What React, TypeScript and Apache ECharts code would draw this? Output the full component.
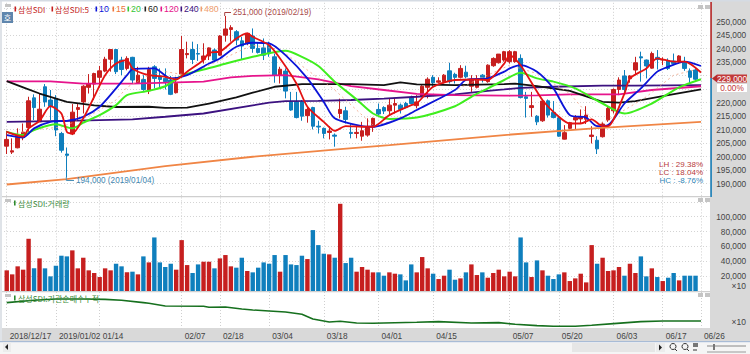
import React, { useEffect, useRef } from "react";
import * as echarts from "echarts";

const UP = "#c61f1f";
const DOWN = "#0f7fbd";
const SANS = "'Liberation Sans',sans-serif";
const CJK = "'Noto Sans CJK KR',sans-serif";

const slotCount = 129;
const tickIndexes = [0, 9, 17, 32, 39, 48, 58, 68, 78, 92, 101, 111, 120, 127];
const tickLabels = ["2018/12/17", "2019/01/02", "01/14", "02/07", "02/18", "03/04", "03/18", "04/01", "04/15", "05/07", "05/20", "06/03", "06/17", "06/26"];

// open, close, low, high, thousands of won
const candleRows: number[][] = [
  [203.9,206.4,201.0,209.6],[201.7,202.2,201.0,206.8],[203.3,207.1,203.1,210.5],[207.1,209.1,206.1,212.3],[210.8,220.7,209.2,222.2],
  [221.8,218.2,213.6,223.1],[212.9,217.6,212.9,223.4],[225.9,220.3,218.5,226.9],[221.0,218.7,213.6,224.7],[221.6,209.9,207.6,222.8],
  [208.6,202.4,201.5,209.2],[201.0,200.5,192.3,203.4],[208.4,216.5,208.0,219.5],[217.5,218.2,213.6,219.5],[220.3,226.1,216.0,226.5],
  [225.7,226.9,223.4,230.6],[226.9,230.8,221.0,231.1],[229.4,231.8,225.7,233.6],[231.7,236.1,231.3,237.0],[236.1,239.7,231.5,239.9],
  [239.7,231.5,230.6,239.9],[235.8,232.3,230.2,237.0],[232.7,236.4,232.0,237.2],[236.8,228.4,227.1,237.0],[227.4,230.2,227.1,233.3],
  [228.6,224.9,224.4,230.2],[224.4,232.3,223.2,233.3],[233.3,229.0,225.3,233.9],[229.9,228.6,225.7,232.7],[229.0,227.8,224.9,232.7],
  [228.4,223.1,222.8,229.9],[223.7,227.1,223.4,229.6],[230.6,239.7,230.2,244.7],[237.8,238.2,236.4,242.6],[239.7,236.0,234.3,242.6],
  [238.2,238.0,235.5,241.7],[236.0,237.3,234.5,242.0],[237.3,240.3,235.8,240.5],[239.5,235.8,235.4,240.1],[237.6,244.7,237.3,245.0],
  [245.0,247.3,242.6,252.1],[247.1,247.8,242.6,248.7],[246.3,243.2,241.3,246.9],[242.9,241.0,236.0,244.4],[242.0,245.7,241.3,245.9],
  [244.7,240.1,238.5,247.5],[240.1,238.6,238.2,242.2],[240.3,237.6,235.8,243.8],[241.3,238.2,237.0,242.6],[237.0,230.2,227.4,238.2],
  [230.1,232.4,227.1,233.3],[231.7,224.3,221.6,232.7],[220.3,217.3,217.0,224.0],[220.3,214.5,214.2,224.0],[220.3,215.0,213.3,221.0],
  [215.2,217.5,212.6,218.2],[218.2,211.3,210.1,218.5],[211.3,211.0,208.6,213.3],[210.5,208.6,206.8,210.8],[209.0,209.5,206.4,211.3],
  [208.0,207.6,203.7,208.6],[216.0,217.5,214.2,221.5],[217.0,213.8,212.3,218.5],[209.0,208.6,206.8,212.3],[208.6,209.0,206.8,211.3],
  [207.6,209.6,205.9,212.9],[208.0,210.8,207.4,214.2],[211.6,214.2,209.2,214.5],[217.5,215.8,215.4,219.7],[218.2,216.9,215.8,218.7],
  [217.0,219.1,215.4,221.6],[219.1,219.7,216.0,221.6],[219.1,217.5,216.0,219.7],[219.7,218.2,217.9,220.3],[222.0,219.7,219.5,222.6],
  [218.9,220.3,217.9,222.8],[222.4,226.1,222.2,226.5],[225.7,228.7,221.6,229.4],[229.4,227.4,225.7,230.2],[227.6,228.1,227.1,229.4],
  [227.8,230.2,227.1,230.6],[231.8,227.8,227.1,234.8],[230.5,229.4,227.1,231.1],[229.4,232.7,229.0,233.9],[231.3,229.6,229.0,233.7],
  [226.1,228.6,224.0,230.2],[225.7,228.4,225.3,230.2],[230.2,229.4,227.5,230.6],[227.8,233.9,227.4,234.2],[233.7,236.4,233.3,236.8],
  [234.8,238.0,234.5,238.0],[235.8,238.9,235.2,239.2],[235.2,238.9,234.5,239.5],[235.2,238.9,234.8,239.2],[236.4,221.9,221.6,237.9],
  [222.2,221.6,214.5,224.0],[218.2,218.9,214.8,224.0],[215.0,212.9,211.7,215.4],[213.3,220.6,212.9,221.2],[220.7,215.4,214.5,221.2],
  [216.4,214.5,214.2,220.6],[214.4,207.6,207.4,215.0],[206.5,208.9,206.4,211.7],[210.5,212.6,210.1,212.9],[213.6,214.5,210.1,215.4],
  [214.0,214.8,212.3,217.5],[213.9,215.4,212.1,218.7],[207.5,208.0,204.9,211.3],[206.1,202.9,201.0,207.6],[207.4,212.1,207.1,212.9],
  [213.6,217.9,212.9,218.5],[217.0,224.9,216.0,225.3],[224.9,228.4,222.8,229.4],[229.9,224.9,222.8,232.1],[228.9,229.9,227.4,230.2],
  [232.1,234.8,230.2,237.0],[237.0,236.6,227.8,238.9],[235.8,233.6,229.0,236.0],[232.8,238.2,232.6,238.9],[236.8,236.0,232.3,239.5],
  [235.8,236.0,233.9,236.8],[235.5,232.7,232.1,236.4],[235.4,234.5,233.9,238.2],[235.2,237.3,234.5,237.6],[234.8,232.7,231.8,237.0],
  [231.8,229.4,227.1,232.7],[232.1,228.7,228.4,232.7],
];

const volumes = [
  27800,22400,33200,28700,70300,30500,43900,30500,19700,34000,47500,46600,54700,30500,44800,27800,24200,18800,30500,27800,
  36700,33200,25100,26000,22400,46600,38500,72100,38500,32300,36700,28700,68500,34900,24200,35800,39400,39400,30500,43900,
  48400,33200,31400,44800,26900,25100,31400,38500,36700,48400,26000,48400,35800,34900,47500,43000,82000,61800,50200,49300,
  44800,117400,37600,44800,26000,32300,28700,25100,25100,20600,25100,23300,22400,14300,35800,25100,45700,30500,23300,16100,
  20600,28700,15200,17000,25100,35800,21500,25100,17900,24200,28700,19700,26000,19700,72100,38500,18800,41200,27800,20600,
  16100,22400,25100,13400,17000,23300,11600,61800,36700,44800,26900,27800,32300,20600,36700,24200,46600,19700,30500,18800,
  13400,17900,24200,14300,20600,20600,20600,
];

// moving averages: [slot, thousands of won], read at the line's turning points
const ma5 = [[0,209.2],[3,207.4],[4,210.5],[6,213.3],[8,218.7],[10,216],[11,209.2],[12,208.6],[14,214.2],[16,222.2],[18,230.2],[20,234.5],[22,235.8],[23,232.7],[26,230.2],[29,229.6],[31,228.6],[33,231.5],[36,235.8],[37,238.5],[39,238.9],[42,243.8],[44,245.7],[45,244.4],[48,241.3],[50,236.4],[53,227.1],[55,218.5],[58,212.9],[60,209.6],[62,211.3],[65,211.1],[67,211.1],[70,215.4],[74,219.1],[75,219.7],[78,225.9],[82,228.4],[86,228.6],[88,228.4],[91,234.5],[92,237.6],[94,233.9],[98,221],[101,214.8],[103,212.3],[105,212.3],[107,213.8],[109,211.3],[110,211.3],[113,223.4],[114,229],[117,232.7],[119,236.4],[122,235.2],[124,235.2],[127,231.2]];
const ma10 = [[0,208],[3,207.1],[5,210.5],[8,212.9],[11,213.3],[14,214.8],[17,218.5],[20,225.3],[22,230.2],[23,232.3],[27,232.7],[30,229],[33,230.2],[37,234.5],[39,236.4],[42,240.7],[45,242.2],[48,242],[51,237.6],[55,229],[58,220.3],[60,214.2],[65,211.3],[67,211.1],[72,214.2],[75,217.3],[82,224.7],[84,228.4],[88,229],[91,231.5],[92,232.7],[94,233.9],[97,231.5],[100,225.3],[103,215.4],[106,214.5],[108,211.3],[110,211.7],[113,219.7],[116,225.3],[119,231.5],[121,233.3],[124,235.2],[127,233.6]];
const ma15 = [[0,208],[5,210],[10,211],[15,215],[20,221],[22,225.7],[26,230.2],[29,231.5],[33,230.2],[37,233.9],[43,239.5],[45,241.3],[50,239.7],[55,232.1],[60,224.7],[64,217.3],[67,211.7],[70,212.9],[75,217.3],[82,224.7],[92,233.9],[97,230.8],[103,223.4],[108,211.7],[111,214.8],[117,222.2],[122,230.2],[127,232.7]];
const ma20 = [[0,209.2],[3,208],[5,209.9],[9,212],[12,210.5],[14,212.6],[17,215.4],[20,219.1],[22,222.8],[26,224.4],[29,226.1],[32,229.9],[36,232.3],[39,233.9],[45,237],[51,239.2],[54,237],[57,233.6],[60,227.8],[64,221.2],[67,216],[70,214],[75,214.5],[82,218.7],[85,222.2],[88,225.3],[91,228.4],[94,231.1],[97,229],[100,227.8],[104,225.3],[109,219.7],[113,216],[118,219.7],[123,225.7],[127,228.7]];
const ma60 = [[0,228],[3,225.7],[6,223.4],[11,220.3],[16,219],[20,218.4],[26,218.5],[29,218.1],[33,218.2],[37,219.7],[42,222],[45,223.7],[49,225.9],[54,226.9],[63,226.9],[69,226.5],[72,227.5],[75,226.8],[82,226.5],[91,226.9],[93,227.1],[97,226.1],[103,224.4],[109,220.3],[112,220],[115,220.6],[121,222.8],[127,224.9]];
const ma120 = [[0,227.9],[8,227.9],[14,227.1],[23,227.1],[36,227.8],[41,229.4],[45,229.9],[51,230.2],[57,228.6],[63,226.1],[69,224.7],[75,223.3],[82,222.8],[91,222.6],[97,222.7],[103,223.1],[112,223.1],[118,224.7],[127,226.1]];
const ma240 = [[0,212.9],[11,213.3],[23,213.8],[29,214.8],[36,216],[45,219],[48,220],[51,220.6],[57,220.7],[63,221],[69,221.5],[75,222.2],[82,223.1],[88,224.4],[91,224.9],[94,225.5],[100,225.9],[109,226.3],[115,226.3],[127,226.5]];
const ma480 = [[0,189.7],[11,191.7],[29,196.5],[45,200],[61,202.8],[70,204.3],[91,208],[108,210.6],[127,212.9]];
const institutionNet = [[0,77],[5,84],[9,88],[14,88],[18,87],[21,84],[25,77],[26,75],[29,67],[36,66],[37,63],[40,64],[43,58],[45,55],[48,52],[51,49],[54,42],[56,28],[59,19],[61,21],[64,16],[67,15],[75,18],[79,20],[85,16],[90,17],[93,12],[97,8],[100,6],[104,6],[107,9],[111,14],[116,20],[120,22],[127,22]];

const legendNames = ["삼성SDI", "삼성SDI:5", "10", "15", "20", "60", "120", "240", "480"];
const legendColors = ["#c61f1f", "#c61f1f", "#0b14d8", "#f0743a", "#35c535", "#222222", "#e6148c", "#3c1280", "#f0a070"];
const legendXs = [18, 55, 99, 116, 131, 148, 164, 184, 204];
const statNames = ["LH : 29.38%", "LC : 18.04%", "HC : -8.76%"];
const statColors = ["#b83a3a", "#b83a3a", "#2f86b8"];
const coveredPriceTicks = [225000, 230000];
const highNote = "251,000 (2019/02/19)";
const lowNote = "194,000 (2019/01/04)";
const lastPrice = "229,000";
const lastChange = "0.00%";

function txt(text: string, x: number, y: number, fill: string, fontSize: number, fontFamily: string, textAlign = "left", z = 20) {
  return { type: "text", x, y, z, silent: true, style: { text, fill, fontSize, fontFamily, textAlign, textVerticalAlign: "middle" } };
}
function box(x: number, y: number, width: number, height: number, fill: string, z = 20) {
  return { type: "rect", z, silent: true, shape: { x, y, width, height }, style: { fill } };
}
function poly(points: number[][], stroke: string, width = 1, z = 20) {
  return { type: "polyline", z, silent: true, shape: { points }, style: { stroke, lineWidth: width, fill: "none" } };
}

export default function App() {
  const ref = useRef<HTMLDivElement>(null);
  useEffect(() => {
    document.body.style.margin = "0";
    const chart = echarts.init(ref.current!, undefined, { renderer: "svg" });
    const categories = Array.from({ length: slotCount }, (_, i) => {
      const t = tickIndexes.indexOf(i);
      return t >= 0 ? tickLabels[t] : String(i);
    });
    const isTick = (i: number) => tickIndexes.includes(i);
    const grid = [
      { left: 4, top: 2.8, width: 705.2, height: 194.4 },
      { left: 4, top: 197.4, width: 705.2, height: 93.6 },
      { left: 4, top: 292, width: 705.2, height: 36.3 },
    ];
    const split = { show: true, interval: (i: number) => isTick(i), alignWithLabel: true, lineStyle: { color: "#cfcfcf", type: [1, 2] as any, width: 1 } };
    const xBase = { type: "category", data: categories, axisLine: { show: false }, axisTick: { show: false }, splitLine: split, boundaryGap: true };
    const yLine = { show: true, showMinLine: false, showMaxLine: false, lineStyle: { color: "#d4d4d4", type: [1, 2] as any, width: 1 } };
    const yLabel = { color: "#444", fontFamily: SANS, fontSize: 8.3, align: "right", margin: 37 };
    const maSeries = (name: string, data: number[][], color: string, width: number, extra: any = {}) => ({
      name, type: "line", xAxisIndex: 0, yAxisIndex: 0, symbol: "none", silent: true, z: 5,
      data: data.map(([i, v]) => [i, v * 1000]), lineStyle: { color, width }, ...extra,
    });
    chart.setOption({
      animation: false,
      grid,
      xAxis: [
        { ...xBase, gridIndex: 0, axisLabel: { show: false } },
        { ...xBase, gridIndex: 1, axisLabel: { show: false } },
        {
          ...xBase, gridIndex: 2,
          axisLabel: {
            show: true, interval: (i: number) => isTick(i), align: "left", margin: 4, color: "#444",
            fontFamily: SANS, fontSize: 8.3, hideOverlap: false, showMinLabel: true, showMaxLabel: true,
            padding: [0, 0, 0, 3],
            formatter: (v: string) => (tickLabels.includes(v) ? v : ""),
          },
        },
      ],
      yAxis: [
        {
          type: "value", gridIndex: 0, position: "right", min: 185000, max: 257000, interval: 5000,
          axisLine: { show: false }, axisTick: { show: false }, splitLine: yLine,
          axisLabel: { ...yLabel, formatter: (v: number) => (v >= 190000 && v <= 250000 && !coveredPriceTicks.includes(v) ? v.toLocaleString("en-US") : "") },
        },
        {
          type: "value", gridIndex: 1, position: "right", min: 0, max: 126000, interval: 20000,
          axisLine: { show: false }, axisTick: { show: false }, splitLine: yLine,
          axisLabel: { ...yLabel, formatter: (v: number) => (v >= 20000 && v <= 100000 ? v.toLocaleString("en-US") : "") },
        },
        {
          type: "value", gridIndex: 2, position: "right", min: 0, max: 109,
          axisLine: { show: false }, axisTick: { show: false }, splitLine: { show: false }, axisLabel: { show: false },
        },
      ],
      series: [
        {
          name: "삼성SDI", type: "candlestick", xAxisIndex: 0, yAxisIndex: 0, barWidth: 4, silent: true, z: 3,
          data: candleRows.map((r) => r.map((v) => v * 1000)),
          itemStyle: { color: UP, color0: DOWN, borderColor: UP, borderColor0: DOWN, borderWidth: 1 },
        },
        maSeries("480", ma480, "#f08545", 1.9),
        maSeries("240", ma240, "#3c1280", 1.8),
        maSeries("120", ma120, "#e6148c", 1.8),
        maSeries("60", ma60, "#111111", 1.8),
        maSeries("15", ma15, "#f0a080", 0.8, { lineStyle: { color: "#f0a080", width: 0.8, type: [2, 3] } }),
        maSeries("20", ma20, "#3fee1e", 2, { smooth: 0.25 }),
        maSeries("10", ma10, "#0b14d8", 1.8, { smooth: 0.25 }),
        maSeries("5", ma5, "#e31212", 1.8, { smooth: 0.25 }),
        {
          name: "거래량", type: "bar", xAxisIndex: 1, yAxisIndex: 1, barWidth: 4.4, silent: true,
          data: volumes.map((value, i) => ({
            value,
            itemStyle: { color: candleRows[i][1] >= candleRows[i][0] ? UP : DOWN },
          })),
        },
        {
          name: "기관순매수누적", type: "line", xAxisIndex: 2, yAxisIndex: 2, symbol: "none", silent: true,
          data: institutionNet, lineStyle: { color: "#16701e", width: 1.6 },
        },
      ],
      graphic: [
        // panels behind the plots
        box(710, 0, 40, 341, "#d9d9d9", -10),
        box(0, 328, 750, 13, "#d9d9d9", -10),
        box(0, 341, 750, 1.5, "#a9bcd6", -10),
        box(0, 342.5, 750, 12, "#f5f5f5", -10),
        box(0, 0, 2, 341, "#dfe3e8", -10),
        box(0, 0, 750, 1.5, "#d5dbe3", -10),
        box(2, 196, 708, 1.2, "#cfcfcf", -9),
        box(2, 291, 708, 1.2, "#cfcfcf", -9),
        // current price bar and tags
        box(710.3, 2, 1.6, 76, "#b92c2c"),
        box(710.3, 78, 1.6, 119, "#1a7fb8"),
        { type: "polygon", z: 21, silent: true, shape: { points: [[712, 78.5], [717, 74.5], [717, 82.5]] }, style: { fill: "#b92c2c" } },
        box(717, 74.5, 30, 8, "#c23a3a", 21),
        txt(lastPrice, 732, 78.5, "#ffffff", 8.3, SANS, "center", 22),
        box(717, 84, 30, 8, "#ffffff", 21),
        txt(lastChange, 732, 88, "#c23a3a", 8.3, SANS, "center", 22),
        // header legend
        ...legendNames.flatMap((name, i) => [
          box(legendXs[i] - 3.5, 6.5, 1.6, 5, legendColors[i]),
          txt(name, legendXs[i], 9, legendColors[i], name.length > 3 ? 8 : 8.8, name.length > 3 ? CJK : SANS),
        ]),
        // panel titles
        box(14, 200.5, 1.6, 5, "#2c8a2c"),
        txt("삼성SDI:거래량", 18, 203, "#3c8c3c", 8, CJK),
        box(14, 295.5, 1.6, 5, "#2c8a2c"),
        txt("삼성SDI:기관순매수누적", 18, 298, "#3c8c3c", 8, CJK),
        // high and low notes
        poly([[224.7, 16], [224.7, 12.5], [231, 12.5]], "#a84040"),
        txt(highNote, 233, 12.5, "#a84a4a", 8.2, SANS),
        poly([[66.3, 177], [66.3, 180.5], [74, 180.5]], "#4b90b8"),
        txt(lowNote, 76, 180.5, "#3f86b0", 8.2, SANS),
        // statistics
        ...statNames.map((s, i) => txt(s, 703, [164.7, 172.5, 180.7][i], statColors[i], 8, SANS, "right")),
        // x10 unit labels
        txt("×10", 746, 285.7, "#444", 8.5, SANS, "right"),
        txt("×10", 746, 321.7, "#444", 8.5, SANS, "right"),
        // small window buttons and toolbar
        box(5, 4, 6, 3, "#c4c4c4"),
        { type: "rect", z: 20, silent: true, shape: { x: 2, y: 12, width: 11, height: 11 }, style: { fill: "#5f86ad" } },
        txt("호", 7.5, 17.5, "#ffffff", 8, CJK, "center", 21),
        box(698, 5, 5, 4, "#c4c4c4"),
        box(705, 5, 5, 4, "#c4c4c4"),
        box(698, 198, 5, 4, "#c4c4c4"),
        box(705, 198, 5, 4, "#c4c4c4"),
        box(698, 293, 5, 4, "#c4c4c4"),
        box(705, 293, 5, 4, "#c4c4c4"),
        box(5, 199, 6, 3, "#c4c4c4"),
        box(5, 294, 6, 3, "#c4c4c4"),
        box(3, 342, 8, 10, "#ececec"),
        { type: "polygon", z: 21, silent: true, shape: { points: [[8, 344], [5, 347], [8, 350]] }, style: { fill: "#222" } },
        box(572, 343, 83, 9, "#e6e6e6"),
        box(656, 343, 9, 9, "#ececec"),
        { type: "polygon", z: 21, silent: true, shape: { points: [[659, 344.5], [662, 347.5], [659, 350.5]] }, style: { fill: "#222" } },
        { type: "circle", z: 21, silent: true, shape: { cx: 673, cy: 346.5, r: 3 }, style: { fill: "none", stroke: "#333", lineWidth: 1 } },
        poly([[675, 349], [677, 351]], "#333"),
        { type: "circle", z: 21, silent: true, shape: { cx: 685, cy: 346.5, r: 3 }, style: { fill: "none", stroke: "#333", lineWidth: 1 } },
        poly([[687, 349], [689, 351]], "#333"),
        box(693, 343, 5, 4, "#777"),
        poly([[693, 350], [697, 350]], "#333"),
        poly([[707, 346], [746, 346]], "#888"),
        box(713, 344, 2, 6, "#777"),
        poly([[707, 352], [746, 352]], "#999"),
      ],
    });
    return () => chart.dispose();
  }, []);
  return <div ref={ref} style={{ position: "fixed", left: 0, top: 0, width: 750, height: 354, background: "#fff" }} />;
}
